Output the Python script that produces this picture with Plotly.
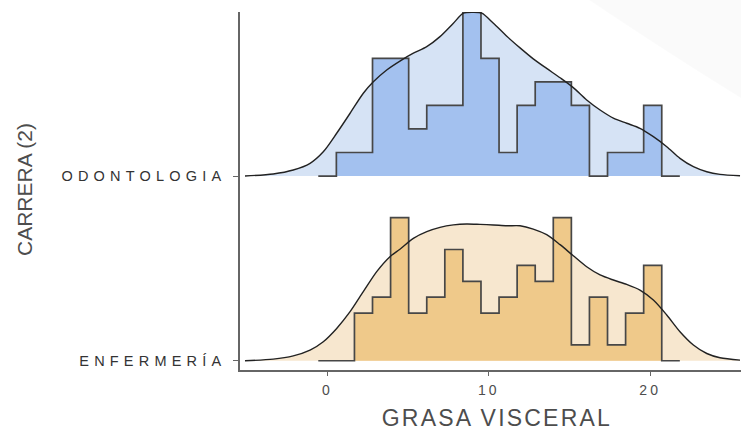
import plotly.graph_objects as go

# Ridge categories (bottom to top) and their fill colours
CATEGORIES = ["ENFERMERÍA", "ODONTOLOGIA"]
DENSITY_FILL = {"ENFERMERÍA": "#f7e7cf", "ODONTOLOGIA": "#d6e3f5"}
HIST_FILL = {"ENFERMERÍA": "#efc98a", "ODONTOLOGIA": "#a3c1ef"}

# Histogram: 20 bins shared by both groups
BIN_START = -0.56
BIN_WIDTH = 1.12
COUNTS = {
    "ODONTOLOGIA": [0, 1, 1, 5, 5, 2, 3, 3, 7, 5, 1, 3, 4, 4, 3, 0, 1, 1, 3, 0],
    "ENFERMERÍA": [0, 0, 3, 4, 9, 3, 4, 7, 5, 3, 4, 6, 5, 9, 1, 4, 1, 3, 6, 0],
}

# Kernel density estimates (GRASA VISCERAL -> density)
KDE_X_ODONTOLOGIA = [-5.1, -3.35, -2.11, -1.07, -0.25, 0.58, 1.41, 2.23, 2.85, 3.68,
                     4.50, 5.33, 6.16, 6.98, 7.81, 8.43, 9.05, 9.57, 10.29, 11.12,
                     11.94, 12.76, 13.59, 14.42, 15.24, 16.07, 16.90, 17.72, 18.55,
                     19.37, 20.20, 21.03, 21.85, 22.68, 23.51, 24.33, 25.57]
KDE_Y_ODONTOLOGIA = [0.0, 0.0015, 0.0044, 0.0093, 0.0177, 0.0312, 0.0458, 0.0604, 0.0688,
                     0.0774, 0.0839, 0.0896, 0.0944, 0.1017, 0.1115, 0.1188, 0.1195,
                     0.1188, 0.1115, 0.1020, 0.0935, 0.0855, 0.0785, 0.0717, 0.0645,
                     0.0555, 0.0482, 0.0423, 0.0385, 0.0348, 0.0287, 0.0214, 0.0129,
                     0.0068, 0.0031, 0.0012, 0.0002]

KDE_X_ENFERMERIA = [-5.1, -3.35, -2.11, -1.07, -0.25, 0.58, 1.41, 2.23, 3.06, 3.88,
                    4.50, 5.33, 6.16, 6.98, 7.81, 8.63, 9.46, 10.29, 11.12, 11.94,
                    12.76, 13.59, 14.42, 15.24, 16.07, 16.90, 17.72, 18.55, 19.37,
                    20.20, 21.03, 21.85, 22.68, 23.51, 24.33, 25.57]
KDE_Y_ENFERMERIA = [0.0, 0.0012, 0.0036, 0.0078, 0.0139, 0.0236, 0.0358, 0.0504, 0.0650,
                    0.0759, 0.0814, 0.0893, 0.0942, 0.0973, 0.0991, 0.0998, 0.0995,
                    0.0991, 0.0985, 0.0985, 0.0961, 0.0920, 0.0847, 0.0766, 0.0686,
                    0.0626, 0.0589, 0.0557, 0.0516, 0.0443, 0.0334, 0.0212, 0.0115,
                    0.0053, 0.0022, 0.0005]

KDE = {
    "ODONTOLOGIA": (KDE_X_ODONTOLOGIA, KDE_Y_ODONTOLOGIA),
    "ENFERMERÍA": (KDE_X_ENFERMERIA, KDE_Y_ENFERMERIA),
}

X_TICKS = [0, 10, 20]

# density units -> ridge height (one ridge spacing = 1)
SCALE = 7.42

FONT = "Liberation Sans, Arial, sans-serif"

fig = go.Figure()

for offset, cat in enumerate(CATEGORIES):
    kx, ky = KDE[cat]
    counts = COUNTS[cat]
    n = sum(counts)
    edges = [BIN_START + i * BIN_WIDTH for i in range(len(counts) + 1)]
    dens = [c / (n * BIN_WIDTH) for c in counts]
    hist_y = [offset + d * SCALE for d in dens] + [offset + dens[-1] * SCALE]
    kde_y = [offset + d * SCALE for d in ky]

    # density area
    fig.add_trace(go.Scatter(x=[kx[0], kx[-1]], y=[offset, offset], mode="lines",
                             line=dict(width=0), hoverinfo="skip", showlegend=False))
    fig.add_trace(go.Scatter(x=kx, y=kde_y, mode="lines", fill="tonexty",
                             fillcolor=DENSITY_FILL[cat],
                             line=dict(width=0, shape="spline", smoothing=0.8),
                             hoverinfo="skip", showlegend=False))
    # histogram area with step outline
    fig.add_trace(go.Scatter(x=[edges[0], edges[-1]], y=[offset, offset], mode="lines",
                             line=dict(width=0), hoverinfo="skip", showlegend=False))
    fig.add_trace(go.Scatter(x=edges, y=hist_y, mode="lines", fill="tonexty",
                             fillcolor=HIST_FILL[cat],
                             line=dict(color="#474747", width=1.7, shape="hv"),
                             hoverinfo="skip", showlegend=False))
    # density outline on top
    fig.add_trace(go.Scatter(x=kx, y=kde_y, mode="lines",
                             line=dict(color="#222222", width=1.4, shape="spline", smoothing=0.8),
                             hoverinfo="skip", showlegend=False))

fig.add_annotation(text="CARRERA (2)", xref="paper", yref="paper",
                   x=-0.429, y=0.503, xanchor="center", yanchor="middle",
                   textangle=-90, showarrow=False,
                   font=dict(family=FONT, size=21, color="#4d4d4d"))

fig.add_annotation(text="GRASA VISCERAL", xref="paper", yref="paper",
                   x=0.512, y=-0.1335, xanchor="center", yanchor="middle",
                   width=280, align="center", showarrow=False, borderpad=0,
                   font=dict(family=FONT, size=23, color="#4d4d4d"))

# faint light wedge in the upper right corner
fig.add_shape(type="path", xref="paper", yref="paper", layer="below",
              path="M 0.69 1.04 L 1.0 1.04 L 1.0 0.76 Q 0.86 0.88 0.69 1.04 Z",
              line=dict(width=0), fillcolor="rgba(0,0,0,0.018)")

fig.update_layout(
    width=741, height=431,
    margin=dict(l=240, r=0, t=12, b=61),
    plot_bgcolor="white", paper_bgcolor="white",
    font=dict(family=FONT, color="#4d4d4d"),
    xaxis=dict(range=[-5.41, 25.63], tickvals=X_TICKS, ticks="outside", ticklen=4,
               tickcolor="#666666", tickwidth=1.3, showline=True, linecolor="#666666",
               linewidth=1.5, showgrid=False, zeroline=False, ticklabelstandoff=2,
               tickfont=dict(size=14, color="#4d4d4d")),
    yaxis=dict(range=[-0.05, 1.888], tickvals=[0, 1], ticktext=CATEGORIES,
               ticks="outside", ticklen=5, tickcolor="#666666", tickwidth=1.3,
               showline=True, linecolor="#666666", linewidth=1.5, showgrid=False,
               zeroline=False, ticklabelstandoff=4,
               tickfont=dict(size=14.5, color="#333333")),
)

# widen the tracking of the axis labels
post = """
var gd = document.getElementById('{plot_id}');
gd.querySelectorAll('.ytick text').forEach(function(t){ t.style.letterSpacing = '5.2px'; });
gd.querySelectorAll('.xtick text').forEach(function(t){ t.style.letterSpacing = '3px'; });
gd.querySelectorAll('.annotation-text').forEach(function(t){
  if (t.textContent === 'GRASA VISCERAL') { t.style.letterSpacing = '2.2px'; }
});
"""

fig.write_html("out.html", post_script=post)
